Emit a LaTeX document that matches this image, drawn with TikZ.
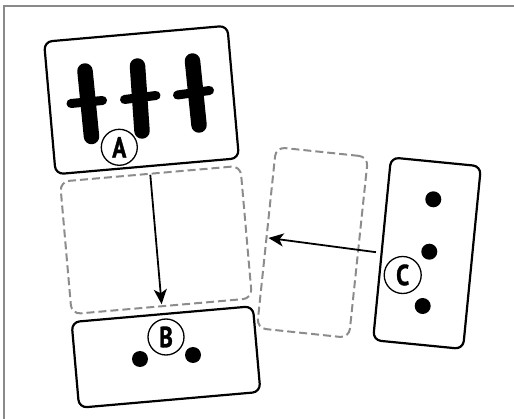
\documentclass[tikz,border=0pt]{standalone}
\usepackage{fontspec}
\newfontfamily\lblfont{PT Sans}[FakeStretch=0.8,BoldFeatures={FakeBold=1.2}]
\usetikzlibrary{arrows.meta,calc}
\definecolor{dashgray}{HTML}{8C8C8C}
\definecolor{framegray}{HTML}{8A8A8A}
\begin{document}
\begin{tikzpicture}[x=1pt,y=-1pt,
 card/.style={draw=black,line width=2.2pt,rounded corners=8pt,fill=white,inner sep=0pt},
 ghost/.style={draw=dashgray,line width=2pt,dash pattern=on 8pt off 4pt,rounded corners=9pt,inner sep=0pt},
 tag/.style={circle,draw,line width=1.3pt,minimum size=36pt,inner sep=0pt,font=\fontsize{29}{29}\selectfont\lblfont\bfseries},
 dot/.style={circle,fill=black,minimum size=16pt,inner sep=0pt},
 link/.style={line width=1.8pt,-{Stealth[length=15pt,width=13pt,inset=4pt]}},
 bar/.style={line width=15.5pt,line cap=round},
 crossbar/.style={line width=9pt,line cap=round}]
\useasboundingbox (0,0) rectangle (514,419);
% frame
\draw[framegray,line width=2pt] (4,419) -- (4,6.5) -- (514,6.5);
% ghost boxes
\node[ghost,minimum width=181pt,minimum height=133pt,rotate=5] (dashA) at (156,240) {};
\node[ghost,minimum width=92.5pt,minimum height=182pt,rotate=-6] (dashC) at (312.5,242.5) {};
% cards
\node[card,minimum width=184pt,minimum height=133pt,rotate=5] (cardA) at (141.5,100) {};
\node[card,minimum width=182pt,minimum height=86pt,rotate=5] (cardB) at (166,357) {};
\node[card,minimum width=90.4pt,minimum height=183.6pt,rotate=-5.6] (cardC) at (427,253.2) {};
% bars in A
\draw[bar] (85,71) -- (91.5,136.5);
\draw[crossbar] (71,103.5) -- (102.5,100.5);
\draw[bar] (137.5,66) -- (142,131);
\draw[crossbar] (124.5,99.5) -- (156,95.5);
\draw[bar] (192.5,61) -- (199,125);
\draw[crossbar] (177.5,95) -- (209.5,90.5);
% dots
\node[dot] (b1) at (140,359) {};
\node[dot] (b2) at (193,355) {};
\node[dot] (c1) at (433.3,199.3) {};
\node[dot] (c2) at (429.3,251.7) {};
\node[dot] (c3) at (422.7,306) {};
% tags
\node[tag,fill=white] (tA) at (119.3,147.3) {A};
\node[tag,fill=white] (tB) at (166,337) {B};
\node[tag,fill=white,minimum size=37pt] (tC) at (402.7,275) {C};
% connectors
\draw[link,shorten <=2pt,shorten >=3pt] (dashA.north) -- (dashA.south);
\coordinate (cstart) at ($(cardC.west)+(-5,3.5)$);
\draw[link,shorten >=3pt] (cstart) -- (dashC.west);
\end{tikzpicture}
\end{document}
